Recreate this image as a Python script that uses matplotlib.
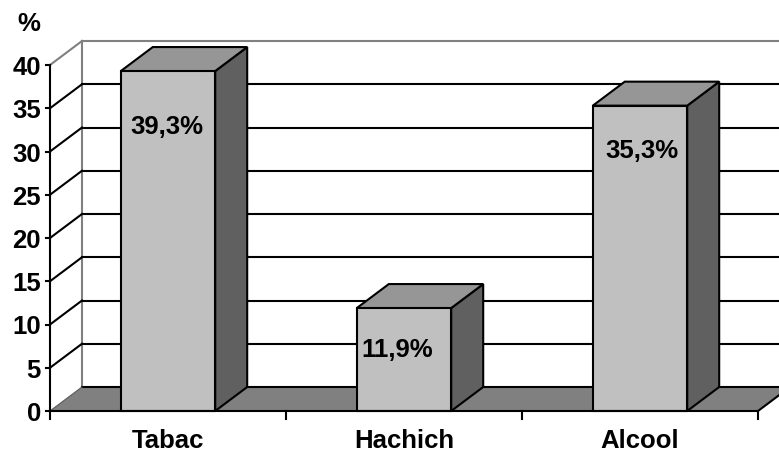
import matplotlib
matplotlib.use("Agg")
import matplotlib.pyplot as plt
from matplotlib.patches import Polygon

# Data
categories = ["Tabac", "Hachich", "Alcool"]
values = [39.3, 11.9, 35.3]
value_labels = ["39,3%", "11,9%", "35,3%"]
y_ticks = [0, 5, 10, 15, 20, 25, 30, 35, 40]
y_unit_label = "%"

# Layout (category units on x, percentage units on y)
W_PX, H_PX = 779, 452
X0_PX, Y0_PX = 50, 412          # origin of the front axes, in pixels
CAT_PX = 236                    # pixel width of one category
UNIT_PX = 8.65                  # pixels per percentage point
DX = 32 / CAT_PX                # depth offset, x
DY = 24 / UNIT_PX               # depth offset, y
BAR_W = 0.40
YMAX = 40
N = len(categories)
FS = 18.5

FRONT = "#c0c0c0"
TOP = "#969696"
SIDE = "#606060"
FLOOR = "#808080"
WALL_EDGE = "#808080"

plt.rcParams["font.family"] = ["Liberation Sans", "DejaVu Sans"]
plt.rcParams["font.weight"] = "bold"

fig = plt.figure(figsize=(W_PX / 100, H_PX / 100), dpi=100)
ax = fig.add_axes([0, 0, 1, 1])
ax.set_xlim(-X0_PX / CAT_PX, (W_PX - X0_PX) / CAT_PX)
ax.set_ylim(-(H_PX - Y0_PX) / UNIT_PX, Y0_PX / UNIT_PX)
ax.axis("off")

right_edge = (W_PX - X0_PX) / CAT_PX + 0.2
lw = 1.5

# Back wall border
ax.plot([DX, DX], [DY, YMAX + DY], color=WALL_EDGE, lw=lw, zorder=1)
ax.plot([DX, right_edge], [YMAX + DY, YMAX + DY], color=WALL_EDGE, lw=lw, zorder=1)
ax.plot([0, DX], [YMAX, YMAX + DY], color=WALL_EDGE, lw=lw, zorder=1)

# Gridlines on the back wall and the side wall
for v in y_ticks[1:-1]:
    ax.plot([DX, right_edge], [v + DY, v + DY], color="black", lw=lw, zorder=1)
    ax.plot([0, DX], [v, v + DY], color="black", lw=lw, zorder=1)

# Floor
floor = Polygon([(0, 0), (N, 0), (N + DX, DY), (DX, DY)], closed=True,
                facecolor=FLOOR, edgecolor="none", zorder=2)
ax.add_patch(floor)
ax.plot([DX, right_edge], [DY, DY], color="black", lw=lw, zorder=2)
ax.plot([N, N + DX], [0, DY], color="black", lw=lw, zorder=2)
ax.plot([0, DX], [0, DY], color="#5a5a5a", lw=0.8, zorder=2)

# Bars
for i, v in enumerate(values):
    c = i + 0.5
    x1, x2 = c - BAR_W / 2, c + BAR_W / 2
    side = Polygon([(x2, 0), (x2 + DX, DY), (x2 + DX, v + DY), (x2, v)],
                   closed=True, facecolor=SIDE, edgecolor="black", lw=lw,
                   joinstyle="miter", zorder=3)
    top = Polygon([(x1, v), (x2, v), (x2 + DX, v + DY), (x1 + DX, v + DY)],
                  closed=True, facecolor=TOP, edgecolor="black", lw=lw,
                  joinstyle="miter", zorder=3)
    front = Polygon([(x1, 0), (x2, 0), (x2, v), (x1, v)],
                    closed=True, facecolor=FRONT, edgecolor="black", lw=lw,
                    joinstyle="miter", zorder=4)
    for p in (side, top, front):
        ax.add_patch(p)

# Value labels
label_drop = [7.2, 5.5, 5.9]
label_shift = [-0.005, -0.03, 0.01]
for i, (v, t) in enumerate(zip(values, value_labels)):
    ax.text(i + 0.5 + label_shift[i], v - label_drop[i], t, ha="center",
            va="baseline", fontsize=FS, fontweight="bold", zorder=6)

# Front axes
ax.plot([0, 0], [0, YMAX], color="black", lw=lw, zorder=5)
ax.plot([0, N], [0, 0], color="black", lw=lw, zorder=5)
tick_len_x = 4 / CAT_PX
for v in y_ticks:
    ax.plot([-tick_len_x, 0], [v, v], color="black", lw=lw, zorder=5)
    ax.text(-9 / CAT_PX, v - 9 / UNIT_PX, str(v), ha="right", va="baseline",
            fontsize=FS, fontweight="bold")
for k in range(N + 1):
    ax.plot([k, k], [0, -8 / UNIT_PX], color="black", lw=lw, zorder=5)
for i, name in enumerate(categories):
    ax.text(i + 0.5, -36 / UNIT_PX, name, ha="center", va="baseline",
            fontsize=FS, fontweight="bold")

ax.text(-21 / CAT_PX, (Y0_PX - 31) / UNIT_PX, y_unit_label, ha="center",
        va="baseline", fontsize=FS, fontweight="bold")

fig.savefig("out.png", dpi=100)
